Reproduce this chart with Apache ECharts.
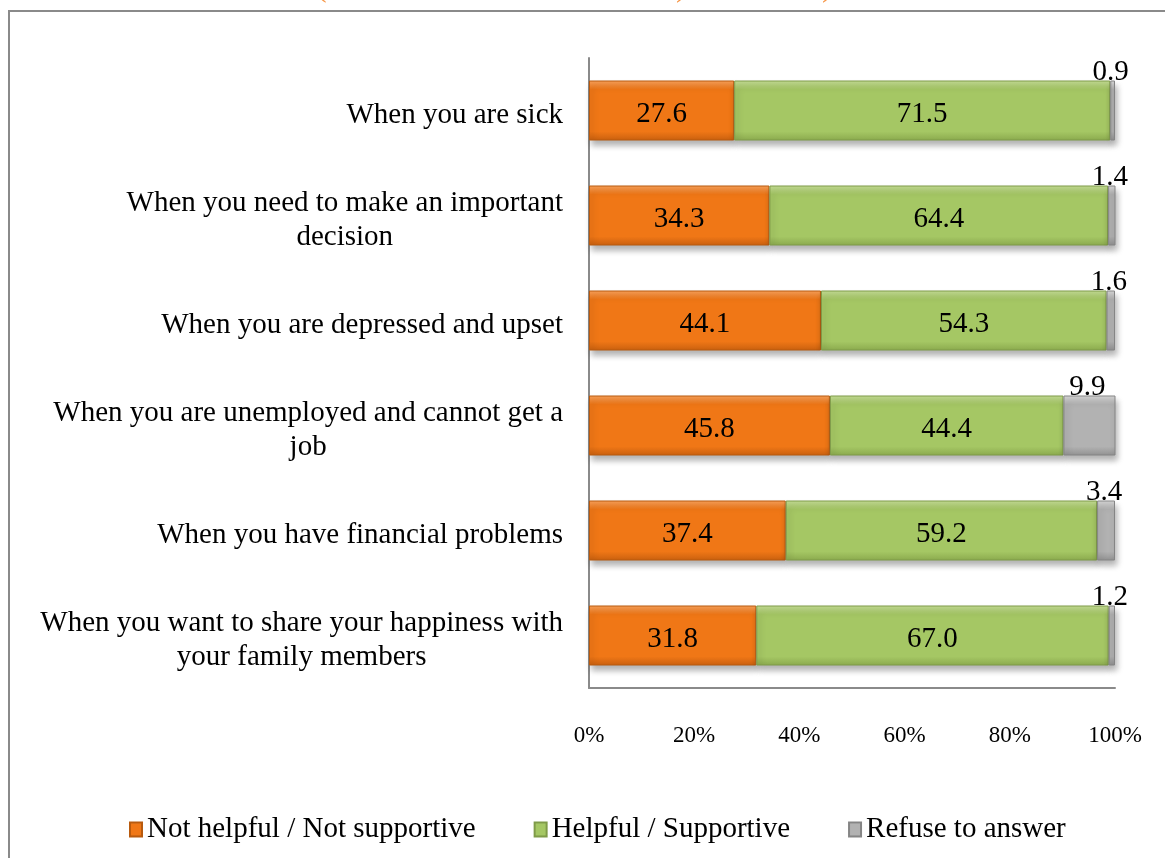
<!DOCTYPE html>
<html>
<head>
<meta charset="utf-8">
<script src="https://cdn.jsdelivr.net/npm/echarts@6/dist/echarts.min.js"></script>
<style>
  html, body { margin: 0; padding: 0; background: #fff; }
  #chart { width: 1165px; height: 858px; }
</style>
</head>
<body>
<div id="chart"></div>
<script>
var categories = [
  'When you are sick',
  'When you need to make an important\ndecision',
  'When you are depressed and upset',
  'When you are unemployed and cannot get a\njob',
  'When you have financial problems',
  'When you want to share your happiness with\nyour family members'
];
var notHelpful = [27.6, 34.3, 44.1, 45.8, 37.4, 31.8];
var helpful = [71.5, 64.4, 54.3, 44.4, 59.2, 67.0];
var refuse = [0.9, 1.4, 1.6, 9.9, 3.4, 1.2];
var xTicks = [0, 20, 40, 60, 80, 100];

var FONT = '"Liberation Serif", "Times New Roman", serif';

function bevel(top, mid, bottom) {
  return new echarts.graphic.LinearGradient(0, 0, 0, 1, [
    { offset: 0, color: top },
    { offset: 0.15, color: mid },
    { offset: 0.85, color: mid },
    { offset: 1, color: bottom }
  ]);
}

var chart = echarts.init(document.getElementById('chart'));

var shadow = {
  shadowBlur: 6,
  shadowOffsetY: 5,
  shadowOffsetX: 2,
  shadowColor: 'rgba(0,0,0,0.3)'
};

function valueLabel(p) { return p.value.toFixed(1); }

var option = {
  animation: false,
  color: ['#F07716', '#A5C764', '#B2B2B2'],
  graphic: [
    {
      type: 'rect',
      shape: { x: 9, y: 11, width: 1200, height: 900 },
      style: { fill: 'none', stroke: '#8a8a8a', lineWidth: 2 },
      silent: true
    },
    { type: 'text', left: 316, top: -28, style: { text: '(', fill: '#F79646', font: '32px ' + FONT } },
    { type: 'text', left: 676, top: -28, style: { text: ')', fill: '#F79646', font: '32px ' + FONT } },
    { type: 'text', left: 822, top: -28, style: { text: ')', fill: '#F79646', font: '32px ' + FONT } }
  ],
  legend: {
    bottom: 9,
    left: 124,
    itemWidth: 12,
    itemHeight: 14,
    itemGap: 58,
    icon: 'rect',
    textStyle: { fontFamily: FONT, fontSize: 29, color: '#000' },
    data: ['Not helpful / Not supportive', 'Helpful / Supportive', 'Refuse to answer']
  },
  grid: { left: 589, right: 50, top: 58, bottom: 170 },
  xAxis: {
    type: 'value',
    min: xTicks[0],
    max: xTicks[xTicks.length - 1],
    interval: 20,
    axisLine: { show: true, lineStyle: { color: '#8a8a8a', width: 2 } },
    axisTick: { show: false },
    splitLine: { show: false },
    axisLabel: {
      margin: 36,
      formatter: '{value}%',
      fontFamily: FONT,
      fontSize: 23,
      color: '#000'
    }
  },
  yAxis: {
    type: 'category',
    inverse: true,
    data: categories,
    axisLine: { show: true, lineStyle: { color: '#8a8a8a', width: 2 } },
    axisTick: { show: false },
    axisLabel: {
      margin: 26,
      align: 'right',
      padding: [10, 0, 0, 0],
      formatter: function (v) {
        return v.split('\n').map(function (l) { return '{c|' + l + '}'; }).join('\n');
      },
      rich: {
        c: { align: 'center', fontFamily: FONT, fontSize: 29, lineHeight: 34, color: '#000' }
      }
    }
  },
  series: [
    {
      name: 'Not helpful / Not supportive',
      type: 'bar',
      stack: 'total',
      barWidth: 60,
      data: notHelpful,
      itemStyle: Object.assign({
        color: bevel('#F7A05A', '#F07716', '#C9600F'),
        borderColor: '#B85A0E',
        borderWidth: 1
      }, shadow),
      label: {
        show: true,
        position: 'inside',
        offset: [0, 4],
        formatter: valueLabel,
        fontFamily: FONT,
        fontSize: 29,
        color: '#000'
      }
    },
    {
      name: 'Helpful / Supportive',
      type: 'bar',
      stack: 'total',
      barWidth: 60,
      data: helpful,
      itemStyle: Object.assign({
        color: bevel('#C3DB94', '#A5C764', '#8BAA4E'),
        borderColor: '#7F9B48',
        borderWidth: 1
      }, shadow),
      label: {
        show: true,
        position: 'inside',
        offset: [0, 4],
        formatter: valueLabel,
        fontFamily: FONT,
        fontSize: 29,
        color: '#000'
      }
    },
    {
      name: 'Refuse to answer',
      type: 'bar',
      stack: 'total',
      barWidth: 60,
      data: refuse,
      itemStyle: Object.assign({
        color: bevel('#D6D6D6', '#B2B2B2', '#929292'),
        borderColor: '#858585',
        borderWidth: 1
      }, shadow),
      label: {
        show: true,
        position: 'top',
        distance: 0,
        offset: [-2, 6],
        formatter: valueLabel,
        fontFamily: FONT,
        fontSize: 29,
        color: '#000'
      }
    }
  ]
};

chart.setOption(option);
</script>
</body>
</html>
